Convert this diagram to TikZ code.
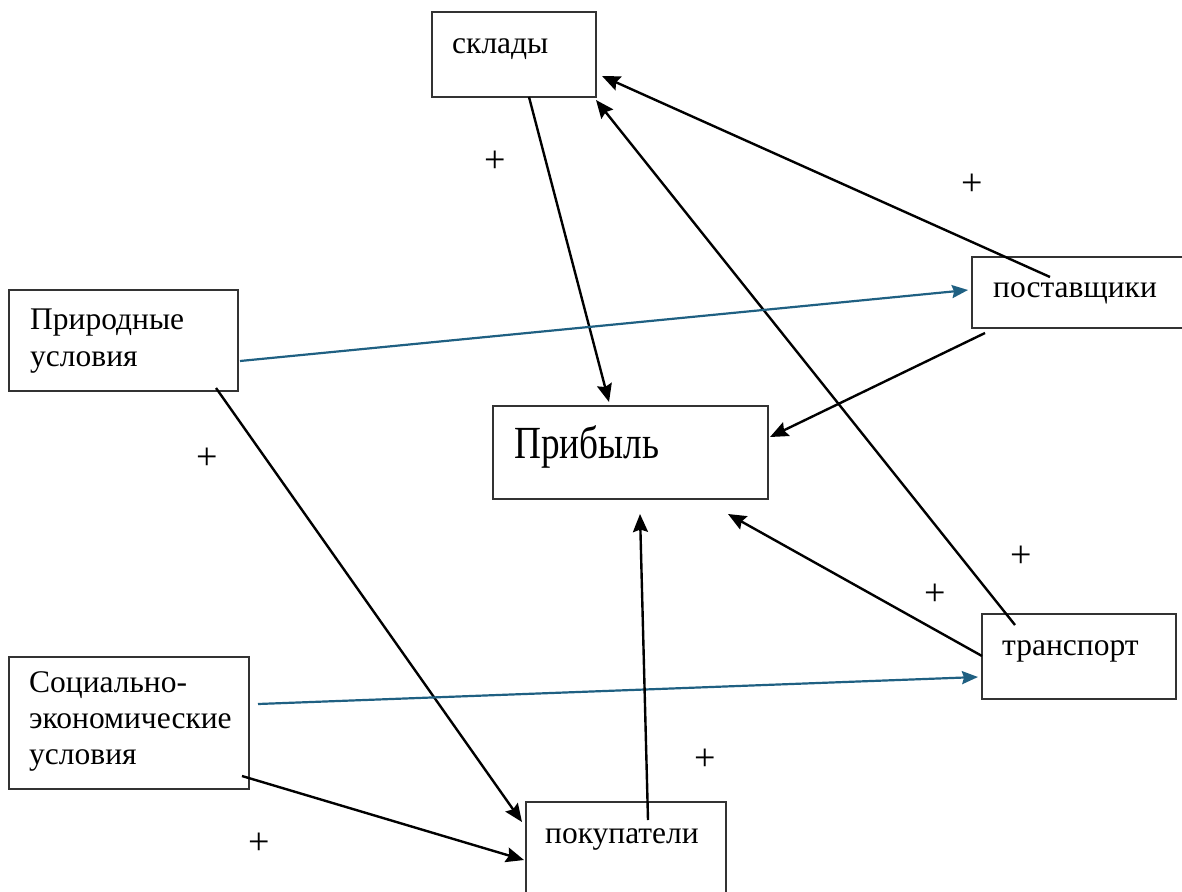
\documentclass[tikz,border=0pt]{standalone}
\usepackage{fontspec}
\setmainfont{Liberation Serif}
\usetikzlibrary{arrows.meta,calc}
\definecolor{bluearr}{RGB}{31,96,130}
\tikzset{
  box/.style={draw=black!80, line width=1.3pt, anchor=north west, inner sep=0pt, outer sep=0pt},
  lbl/.style={anchor=base west, inner sep=0pt, font=\fontsize{31.5}{36}\selectfont},
  plus/.style={inner sep=0pt, font=\fontsize{38}{40}\selectfont},
  blk/.style={line width=2.4pt, -{Stealth[length=18pt,width=15pt,inset=2.5pt]}},
  blu/.style={draw=bluearr, line width=2.2pt, -{Stealth[length=16pt,width=13pt,inset=2pt]}}
}
\begin{document}
\begin{tikzpicture}[x=1pt,y=-1pt]
\useasboundingbox (0,0) rectangle (1182,891);
\clip (0,0) rectangle (1182,891);
% boxes
\node[box, minimum width=164pt, minimum height=85pt] (skl) at (432,12) {};
\node[box, minimum width=229pt, minimum height=101pt] (prir) at (9,290) {};
\node[box, minimum width=215pt, minimum height=71pt] (post) at (972,257) {};
\node[box, minimum width=275pt, minimum height=93pt] (pr) at (493,406) {};
\node[box, minimum width=240pt, minimum height=132pt] (soc) at (9,657) {};
\node[box, minimum width=194pt, minimum height=85pt] (tr) at (982,614) {};
\node[box, minimum width=200pt, minimum height=110pt] (pok) at (526,802) {};
% texts
\node[lbl] (sklT) at (452,53) {склады};
\node[lbl] (prirT1) at (30,329) {Природные};
\node[lbl] (prirT2) at (30,366) {условия};
\node[lbl] (postT) at (993,297) {поставщики};
\node[lbl, font=\fontsize{46}{50}\selectfont] (prT) at (514,458) {\scalebox{0.81}[1]{Прибыль}};
\node[lbl] (socT1) at (29,692) {Социально-};
\node[lbl] (socT2) at (29,728) {экономические};
\node[lbl] (socT3) at (29,764) {условия};
\node[lbl] (trT) at (1002,655) {транспорт};
\node[lbl] (pokT) at (545,843) {покупатели};
% plus signs
\node[plus] (p1) at (495,162) {+};
\node[plus] (p2) at (972,185) {+};
\node[plus] (p3) at (207,459) {+};
\node[plus] (p4) at (1021,557) {+};
\node[plus] (p5) at (935,595) {+};
\node[plus] (p6) at (705,760) {+};
\node[plus] (p7) at (259,844) {+};
% connectors
\draw[blk] ($(skl.south west)+(97,0)$) -- ($(pr.north west)+(116,-4)$);
\draw[blk] ($(post.north west)+(78,20)$) -- ($(skl.north east)+(6,64)$);
\draw[blk] ($(tr.north west)+(33,11)$) -- ($(skl.south east)+(0,3)$);
\draw[blu] ($(prir.north east)+(2,71)$) -- ($(post.north west)+(-4,33)$);
\draw[blk] ($(post.south west)+(13,5)$) -- ($(pr.north east)+(2,31)$);
\draw[blk] ($(tr.north west)+(0,42)$) -- ($(pr.south east)+(-40,15)$);
\draw[blk] ($(prir.south east)+(-22,-3)$) -- ($(pok.north west)+(-4,20)$);
\draw[blu] ($(soc.north east)+(9,47)$) -- ($(tr.north west)+(-4,63)$);
\draw[blk] ($(soc.south east)+(-7,-13)$) -- ($(pok.north west)+(-2,58)$);
\draw[blk] ($(pok.north west)+(122,18)$) -- ($(pr.south west)+(147,15)$);
\end{tikzpicture}
\end{document}
